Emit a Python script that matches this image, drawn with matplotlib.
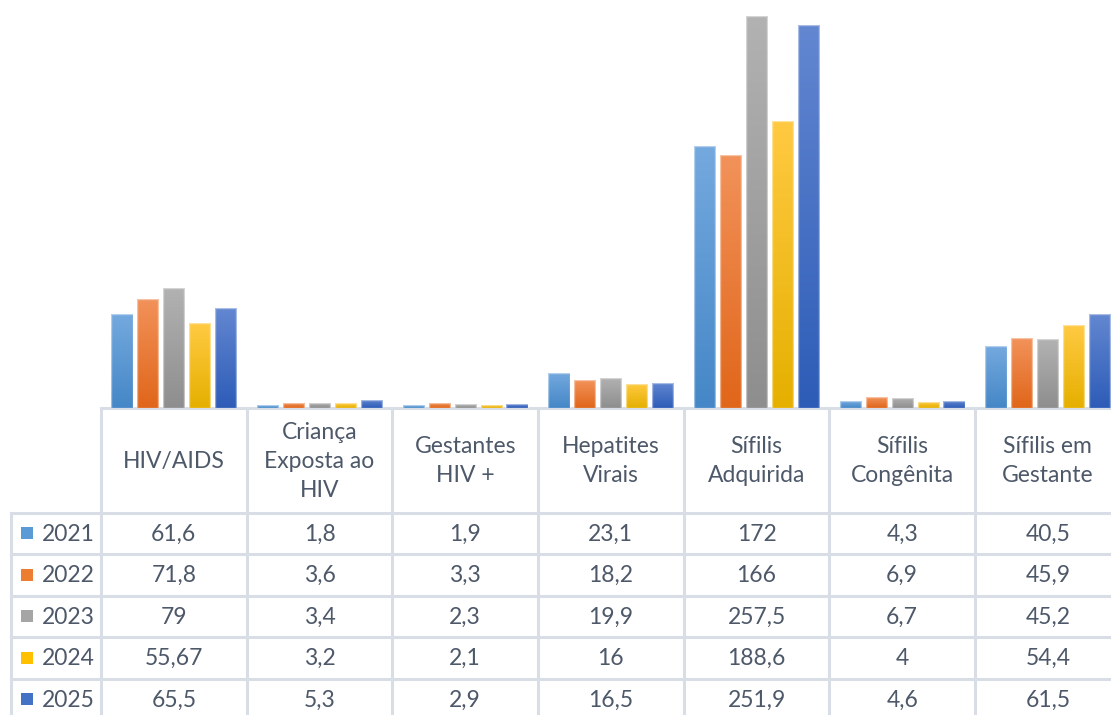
import numpy as np
import matplotlib
matplotlib.use('Agg')
import matplotlib.pyplot as plt
from matplotlib.colors import to_rgb

categories = ['HIV/AIDS', 'Criança\nExposta ao\nHIV', 'Gestantes\nHIV +',
              'Hepatites\nVirais', 'Sífilis\nAdquirida', 'Sífilis\nCongênita',
              'Sífilis em\nGestante']
years = ['2021', '2022', '2023', '2024', '2025']
v2021 = [61.6, 1.8, 1.9, 23.1, 172, 4.3, 40.5]
v2022 = [71.8, 3.6, 3.3, 18.2, 166, 6.9, 45.9]
v2023 = [79, 3.4, 2.3, 19.9, 257.5, 6.7, 45.2]
v2024 = [55.67, 3.2, 2.1, 16, 188.6, 4, 54.4]
v2025 = [65.5, 5.3, 2.9, 16.5, 251.9, 4.6, 61.5]
series = [v2021, v2022, v2023, v2024, v2025]

base_colors = ['#5b9bd5', '#ed7d31', '#a5a5a5', '#ffc000', '#4472c4']
top_colors = ['#74a9de', '#f2925a', '#b2b2b2', '#ffca42', '#6387d1']
bottom_colors = ['#4587c7', '#e0661a', '#8e8e8e', '#e5b000', '#2d5cb7']

text_color = '#4d5869'
grid_color = '#d9dee6'
font = ['Lato', 'DejaVu Sans']

W, H = 1111, 715
fig = plt.figure(figsize=(W / 100, H / 100), dpi=100)

# layout in pixels
x_left = 101
col_w = 145.67
base_y = 408
px_per_unit = 1.522
n_cat = len(categories)

ax = fig.add_axes([x_left / W, (H - base_y) / H, n_cat * col_w / W, base_y / H])
ax.set_xlim(-0.5, n_cat - 0.5)
ax.set_ylim(0, base_y / px_per_unit)
ax.axis('off')

x = np.arange(n_cat)
bar_w = 0.145
step = 0.178
for i, vals in enumerate(series):
    bars = ax.bar(x + (i - 2) * step, vals, width=bar_w,
                  facecolor='none', edgecolor='none', zorder=2)
    c0 = np.array(to_rgb(bottom_colors[i]))
    c1 = np.array(to_rgb(top_colors[i]))
    t = np.linspace(0, 1, 128)[:, None, None]
    grad = c0 + (c1 - c0) * t
    for p in bars.patches:
        x0, w, h = p.get_x(), p.get_width(), p.get_height()
        im = ax.imshow(grad, extent=(x0, x0 + w, 0, h), origin='lower',
                       aspect='auto', zorder=1, interpolation='bilinear')
        im.set_clip_path(p)
        ax.add_patch(plt.Rectangle((x0, 0), w, h, facecolor='none',
                                   edgecolor=(1, 1, 1, 0.45), lw=1.0, zorder=3))
ax.set_xlim(-0.5, n_cat - 0.5)
ax.set_ylim(0, base_y / px_per_unit)

# data table underneath, drawn in pixel coordinates
tb = fig.add_axes([0, 0, 1, 1], zorder=-1)
tb.set_xlim(0, W)
tb.set_ylim(H, 0)
tb.axis('off')

header_bottom = 512.5
row_h = 41.5
table_left = 11
lw = 2.2

tb.plot([x_left, W + 20], [base_y, base_y], color=grid_color, lw=lw)
for k in range(len(years) + 1):
    y = header_bottom + k * row_h
    tb.plot([table_left, W + 20], [y, y], color=grid_color, lw=lw)
tb.plot([table_left, table_left], [header_bottom, H + 20], color=grid_color, lw=lw)
for c in range(n_cat + 1):
    xc = x_left + c * col_w
    tb.plot([xc, xc], [base_y, H + 20], color=grid_color, lw=lw)

for c, name in enumerate(categories):
    xc = x_left + (c + 0.5) * col_w
    tb.text(xc, (base_y + header_bottom) / 2 + 1, name, ha='center', va='center',
            fontsize=16.5, color=text_color, family=font, linespacing=1.48)

for r, (yr, vals) in enumerate(zip(years, series)):
    yc = header_bottom + (r + 0.5) * row_h
    tb.add_patch(plt.Rectangle((21, yc - 6), 12, 12, facecolor=base_colors[r],
                               edgecolor='none'))
    tb.text(68, yc + 1, yr, ha='center', va='center', fontsize=16.5,
            color=text_color, family=font)
    for c, v in enumerate(vals):
        xc = x_left + (c + 0.5) * col_w
        tb.text(xc, yc + 1, f'{v:g}'.replace('.', ','), ha='center', va='center',
                fontsize=16.5, color=text_color, family=font)

fig.savefig('out.png', dpi=100)
